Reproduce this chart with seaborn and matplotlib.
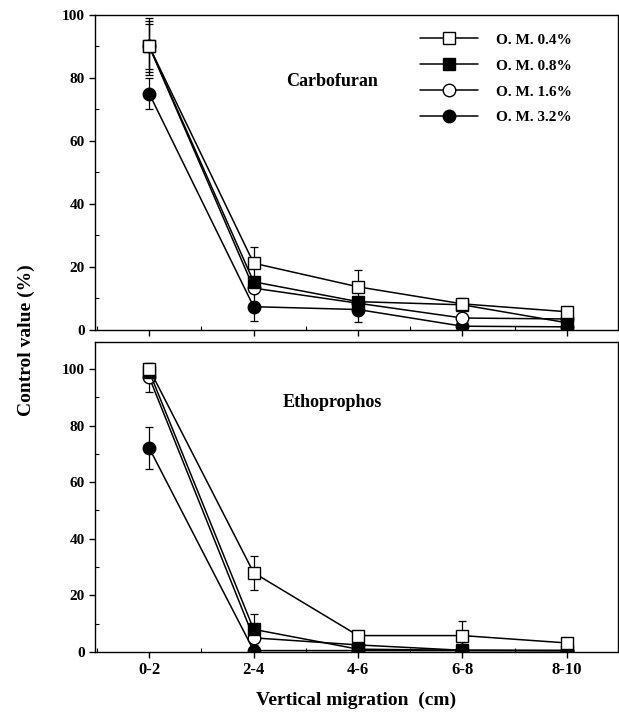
import matplotlib
matplotlib.use("Agg")
import matplotlib.pyplot as plt
import seaborn as sns
import pandas as pd
import numpy as np
from matplotlib.ticker import MultipleLocator
from matplotlib.lines import Line2D

sns.set_theme(style="ticks")
plt.rcParams['font.family'] = ['Liberation Serif', 'DejaVu Serif']
plt.rcParams['font.weight'] = 'bold'
plt.rcParams['text.color'] = 'black'
plt.rcParams['axes.labelcolor'] = 'black'
plt.rcParams['xtick.color'] = 'black'
plt.rcParams['ytick.color'] = 'black'
plt.rcParams['axes.edgecolor'] = 'black'

categories = ["0-2", "2-4", "4-6", "6-8", "8-10"]
series = ["O. M. 0.4%", "O. M. 0.8%", "O. M. 1.6%", "O. M. 3.2%"]

# Carbofuran
carb_04 = [90, 21.2, 13.7, 8.3, 5.8]
carb_08 = [90, 15.3, 9.0, 8.0, 2.3]
carb_16 = [90, 13.3, 8.5, 3.8, 3.5]
carb_32 = [75, 7.4, 6.5, 1.2, 1.0]
carb_04_err = [8, 5, 5.5, 2, 0]
carb_08_err = [7, 0, 0, 0, 0]
carb_16_err = [9, 0, 0, 0, 0]
carb_32_err = [5, 4.5, 4, 0, 0]

# Ethoprophos
etho_04 = [100, 28, 5.8, 5.8, 3.2]
etho_08 = [99, 8, 1.0, 0.6, 0.5]
etho_16 = [97, 5, 2.5, 0.6, 0.5]
etho_32 = [72, 0.5, 0.5, 0.5, 0.5]
etho_04_err = [2, 6, 0, 5, 0]
etho_08_err = [2, 5.5, 0, 0, 0]
etho_16_err = [5, 0, 0, 0, 0]
etho_32_err = [7.5, 0, 0, 0, 0]

styles = {
    "O. M. 0.4%": dict(marker="s", mfc="white"),
    "O. M. 0.8%": dict(marker="s", mfc="black"),
    "O. M. 1.6%": dict(marker="o", mfc="white"),
    "O. M. 3.2%": dict(marker="o", mfc="black"),
}

def make_df(vals, errs):
    rows = []
    for s, v, e in zip(series, vals, errs):
        for i, c in enumerate(categories):
            rows.append(dict(series=s, pos=i, cat=c, value=v[i], err=e[i]))
    return pd.DataFrame(rows)

df_carb = make_df([carb_04, carb_08, carb_16, carb_32],
                  [carb_04_err, carb_08_err, carb_16_err, carb_32_err])
df_etho = make_df([etho_04, etho_08, etho_16, etho_32],
                  [etho_04_err, etho_08_err, etho_16_err, etho_32_err])

fig = plt.figure(figsize=(6.19, 7.18), dpi=100)
W, H = 619, 718
ax1 = fig.add_axes([95 / W, 1 - 330 / H, 523 / W, 315 / H])
ax2 = fig.add_axes([95 / W, 1 - 652 / H, 523 / W, 310 / H])

def draw(ax, df, ymax):
    for s in series[::-1]:
        sub = df[df.series == s]
        st = styles[s]
        ax.errorbar(sub.pos, sub.value, yerr=sub.err, fmt="none",
                    ecolor="black", elinewidth=0.9, capsize=3, capthick=0.9, zorder=2)
        sns.lineplot(data=sub, x="pos", y="value", ax=ax, color="black",
                     marker=st["marker"], markerfacecolor=st["mfc"],
                     markeredgecolor="black", markeredgewidth=1.0,
                     markersize=9, linewidth=1.1, label=s, zorder=3,
                     legend=False)
    ax.set_xlim(-0.52, 4.49)
    ax.set_ylim(0, ymax)
    ax.set_xticks(range(len(categories)))
    ax.xaxis.set_minor_locator(MultipleLocator(0.5))
    ax.set_yticks([0, 20, 40, 60, 80, 100])
    ax.yaxis.set_minor_locator(MultipleLocator(10))
    ax.tick_params(axis="both", which="major", direction="out", length=4,
                   width=1, labelsize=11, colors="black")
    ax.tick_params(axis="both", which="minor", direction="in", length=3,
                   width=0.8, colors="black")
    ax.set_xlabel("")
    ax.set_ylabel("")
    for sp in ax.spines.values():
        sp.set_linewidth(1.0)
        sp.set_color("black")

draw(ax1, df_carb, 100)
draw(ax2, df_etho, 109.5)

ax1.set_xticklabels([])
ax2.set_xticklabels(categories, fontweight="bold", fontsize=12)
ax2.tick_params(axis="x", which="major", pad=3)
for ax in (ax1, ax2):
    for lab in ax.get_yticklabels() + ax.get_xticklabels():
        lab.set_fontweight("bold")
        lab.set_color("black")

ax1.text(1.31, 79, "Carbofuran", fontsize=13, fontweight="bold",
         va="center", ha="left", color="black")
ax2.text(1.28, 88, "Ethoprophos", fontsize=13, fontweight="bold",
         va="center", ha="left", color="black")

handles = [Line2D([], [], color="black", lw=1.1, marker=styles[s]["marker"],
                  markerfacecolor=styles[s]["mfc"], markeredgecolor="black",
                  markersize=9) for s in series]
fig.legend(handles, series, loc="upper left",
           bbox_to_anchor=(420 / W, 1 - 33 / H), frameon=False,
           prop=dict(weight="bold", size=11), handlelength=3.8,
           handletextpad=1.2, labelspacing=0.8, borderpad=0, borderaxespad=0,
           labelcolor="black")

fig.text(26 / W, 1 - 340 / H, "Control value (%)", rotation=90, fontsize=14,
         fontweight="bold", ha="center", va="center", color="black")
fig.text(356 / W, 1 - 700 / H, "Vertical migration  (cm)", fontsize=14,
         fontweight="bold", ha="center", va="center", color="black")

fig.savefig("out.png", dpi=100)
